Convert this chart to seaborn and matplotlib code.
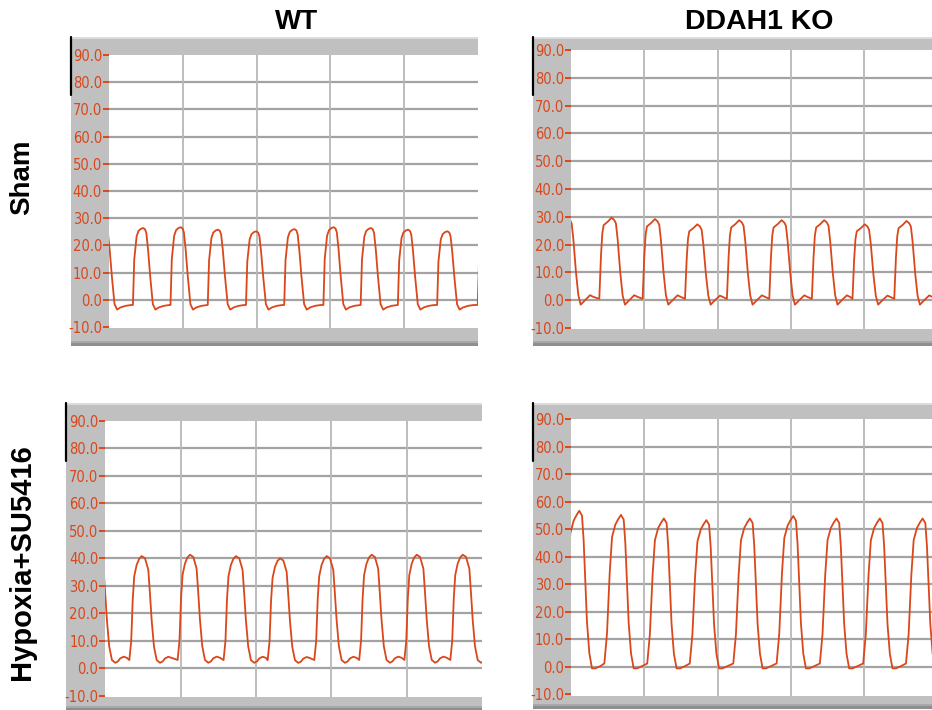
import matplotlib
matplotlib.use("Agg")
import matplotlib.pyplot as plt
import seaborn as sns
import numpy as np
from matplotlib.lines import Line2D

# ---------------- data ----------------
col_titles = ["WT", "DDAH1 KO"]
row_titles = ["Sham", "Hypoxia+SU5416"]
y_ticks = [-10, 0, 10, 20, 30, 40, 50, 60, 70, 80, 90]
x_grid = [100, 200, 300, 400]

wt_sham_dt = [0.0, 1.8, 5.0, 7.5, 10.8, 14.0, 16.5, 18.2, 20.5, 23.4, 27.0, 30.5, 35.0, 42.0, 49.5]
wt_sham_v = [-1.9, 14.8, 23.3, 25.3, 26.1, 26.4, 25.9, 24.5, 18.5, 8.7, -1.6, -3.6, -2.8, -2.2, -1.9]
wt_sham_onsets = [-19.5, 32.4, 83.3, 133.8, 185.6, 237.4, 290.5, 341.0, 391.4, 444.6, 499.6]
wt_sham_peaks = [26.0, 26.4, 26.7, 25.8, 25.2, 26.0, 26.7, 26.4, 25.8, 25.2, 26.0]

ko_sham_dt = [0.0, 1.4, 2.3, 4.1, 5.9, 11.4, 16.8, 20.5, 22.7, 25.0, 28.6, 31.8, 35.0, 40.9, 47.7, 52.3]
ko_sham_v = [0.5, 10.0, 16.0, 24.0, 27.0, 28.2, 29.7, 28.8, 27.6, 22.0, 10.0, 1.8, -1.6, 0.0, 1.8, 1.2]
ko_sham_onsets = [-21.8, 38.6, 97.7, 155.5, 212.7, 270.5, 328.6, 384.0, 441.0]
ko_sham_peaks = [29.7, 29.7, 29.2, 27.3, 28.8, 28.8, 28.8, 27.3, 28.5]

wt_hyp_dt = [0.0, 2.5, 4.5, 6.5, 9.7, 13.0, 16.4, 20.8, 25.2, 27.4, 29.6, 32.7, 36.3, 40.7, 44.2, 47.3, 51.8, 56.2]
wt_hyp_v = [3.0, 10.0, 25.0, 33.5, 37.6, 39.8, 40.8, 40.0, 35.8, 27.0, 17.6, 7.9, 3.0, 2.0, 2.5, 3.6, 4.2, 3.8]
wt_hyp_onsets = [-27.5, 31.9, 96.0, 157.0, 215.5, 277.4, 337.0, 397.0, 458.0]
wt_hyp_peaks = [41.0, 40.8, 41.3, 40.8, 40.0, 40.8, 41.3, 41.3, 41.3]

ko_hyp_dt = [0.0, 3.6, 7.3, 10.5, 15.0, 19.0, 22.7, 26.4, 28.6, 30.9, 33.2, 36.4, 40.0, 44.5, 51.4]
ko_hyp_v = [1.2, 12.0, 34.0, 47.0, 51.5, 53.5, 55.0, 53.3, 44.8, 30.3, 15.8, 4.8, -0.6, -0.6, 0.2]
ko_hyp_onsets = [-11.4, 45.5, 104.0, 162.0, 221.4, 280.5, 339.5, 398.6, 457.0]
ko_hyp_peaks = [56.7, 55.2, 53.9, 53.3, 53.9, 54.8, 53.9, 53.9, 53.9]

# ---------------- layout ----------------
W, H = 932, 710
sns.set_style("white")
plt.rcParams["text.color"] = "black"
fig = plt.figure(figsize=(W / 100, H / 100), dpi=100)
fig.patch.set_facecolor("white")

TRACE = "#D9471B"
LABEL_FAMILY = ["Liberation Sans Narrow", "DejaVu Sans"]
TITLE_FAMILY = ["Liberation Sans", "DejaVu Sans"]


def box(l, t, r, b):
    return [l / W, 1 - b / H, (r - l) / W, (b - t) / H]


def build(dt, v, onsets, peaks):
    tpk = max(v)
    xs, ys = [], []
    for o, pk in zip(onsets, peaks):
        for d, val in zip(dt, v):
            xs.append(o + d)
            ys.append(val * pk / tpk if val > 0 else val)
    return np.array(xs), np.array(ys)


panels = [
    # frame (l,t,r,b), plot (l,t,r,b), xmax, data
    ((71, 37, 478, 346), (109, 55, 478, 328.4), 500, (wt_sham_dt, wt_sham_v, wt_sham_onsets, wt_sham_peaks)),
    ((533, 37, 932, 346), (571, 50, 932, 329.4), 492.5, (ko_sham_dt, ko_sham_v, ko_sham_onsets, ko_sham_peaks)),
    ((66, 403, 482, 711), (105.3, 420.8, 482, 697.2), 500, (wt_hyp_dt, wt_hyp_v, wt_hyp_onsets, wt_hyp_peaks)),
    ((533, 403, 932, 709), (571, 419.2, 932, 695.6), 492.5, (ko_hyp_dt, ko_hyp_v, ko_hyp_onsets, ko_hyp_peaks)),
]

for frame, plot, xmax, data in panels:
    fl, ft, fr, fb = frame
    fax = fig.add_axes(box(fl, ft, fr, fb))
    fax.set_facecolor("#C0C0C0")
    fax.set_xlim(0, 1)
    fax.set_ylim(0, 1)
    fax.set_xticks([])
    fax.set_yticks([])
    for s in fax.spines.values():
        s.set_visible(False)
    hfr = fb - ft
    fax.axhspan(0, 3.5 / hfr, color="#8E8E8E", lw=0)
    fax.axhspan(3.5 / hfr, 5 / hfr, color="#A8A8A8", lw=0)
    fax.axhspan(1 - 1.5 / hfr, 1, color="#DCDCDC", lw=0)
    # black mark on left edge
    fig.add_artist(Line2D([fl / W, fl / W], [1 - ft / H, 1 - (ft + 58) / H],
                          color="black", lw=1.6, transform=fig.transFigure))

    ax = fig.add_axes(box(*plot))
    ax.set_facecolor("white")
    x, y = build(*data)
    sns.lineplot(x=x, y=y, ax=ax, color=TRACE, lw=1.3, estimator=None, sort=False, zorder=5)
    ax.set_xlim(0, xmax)
    ax.set_ylim(-10.5, 90)
    for gy in y_ticks[1:-1]:
        ax.axhline(gy, color="#A3A3A3", lw=1.6, zorder=1)
    for gx in x_grid:
        ax.axvline(gx, color="#B8B8B8", lw=1.3, zorder=1)
    ax.set_xticks([])
    ax.set_yticks(y_ticks)
    ax.set_yticklabels([f"{t:.1f}" for t in y_ticks], color=TRACE,
                       family=LABEL_FAMILY, fontsize=10.5, fontstretch="condensed")
    ax.tick_params(axis="y", direction="out", length=4, width=1.4, color=TRACE, pad=1, left=True)
    for s in ax.spines.values():
        s.set_visible(False)
    ax.set_xlabel("")
    ax.set_ylabel("")

# titles
kw = dict(ha="center", va="center", fontweight="bold", family=TITLE_FAMILY, color="black")
fig.text(297 / W, 1 - 22 / H, col_titles[0], fontsize=20, **kw)
fig.text(759 / W, 1 - 22 / H, col_titles[1], fontsize=20.5, **kw)
fig.text(22 / W, 1 - 177 / H, row_titles[0], rotation=90, fontsize=20, **kw)
fig.text(22 / W, 1 - 562 / H, row_titles[1], rotation=90, fontsize=21, **kw)

fig.savefig("out.png", dpi=100, facecolor="white")
